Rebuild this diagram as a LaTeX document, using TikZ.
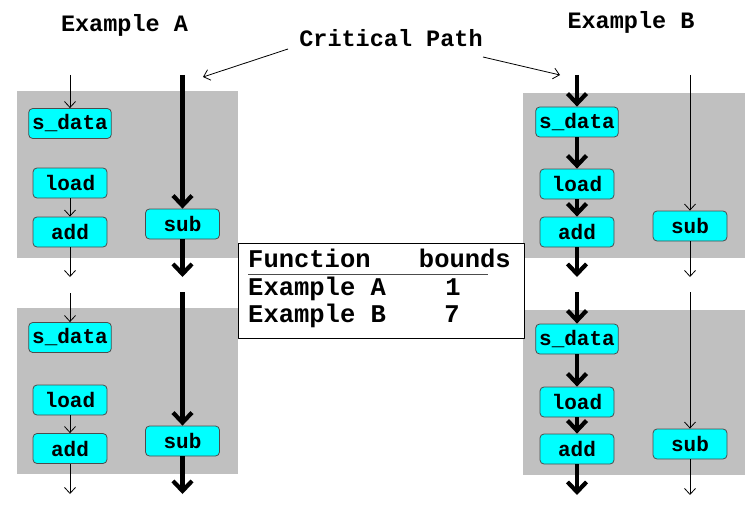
\documentclass[tikz,border=0pt]{standalone}
\usepackage{fontspec}
\setmainfont{Liberation Mono}
\usetikzlibrary{arrows.meta}
\definecolor{boxgray}{RGB}{192,192,192}
\definecolor{opcyan}{RGB}{0,255,255}

\begin{document}
\begin{tikzpicture}[line join=round,x=1pt,y=-1pt,
  op/.style={draw=black!70,fill=opcyan,rounded corners=4pt,line width=0.8pt,
    minimum width=74pt,minimum height=30pt,inner xsep=3.5pt,
    font=\fontsize{21}{21}\selectfont\bfseries},
  minor/.style={line width=0.8pt,-{Straight Barb[length=6pt,width=11pt]}},
  crit/.style={line width=4.2pt,-{Straight Barb[length=10pt,width=19pt,sharp]}},
  title/.style={anchor=base,font=\fontsize{23.5}{24}\selectfont\bfseries},
  tabtxt/.style={font=\fontsize{25.5}{26}\selectfont\bfseries,inner sep=0pt}]
\useasboundingbox (0,0) rectangle (756,511);
%\clip (0,0) rectangle (756,511);
% gray blocks
\fill [boxgray] (17,91) rectangle (238,258);
\fill [boxgray] (17,308) rectangle (238,474);
\fill [boxgray] (523,93) rectangle (745,258);
\fill [boxgray] (523,310) rectangle (745,475);
% titles
\node [title] (titA) at (124.5,31.7) {Example A};
\node [title] (titB) at (631,29) {Example B};
\node [title] (cpath) at (391,47) {Critical Path};
\coordinate (cpL) at (288,49);
\coordinate (cpR) at (483,57);
\coordinate (cpLend) at (203,77);
\coordinate (cpRend) at (560,75);
\draw [minor] (cpL) -- (cpLend);
\draw [minor] (cpR) -- (cpRend);
% Example A, upper block
\node [op] (sdA1) at (70,123.5) {s\_data};
\node [op] (ldA1) at (70,183) {load};
\node [op] (adA1) at (70,232) {add};
\node [op] (sbA1) at (182.5,224) {sub};
\coordinate (inA1) at (70,75);
\coordinate (outA1) at (70,277);
\coordinate (cinA1) at (182.5,75);
\coordinate (coutA1) at (182.5,277);
\draw [minor] (inA1) -- (sdA1);
\draw [minor] (ldA1) -- (adA1);
\draw [minor] (adA1) -- (outA1);
\draw [crit] (cinA1) -- (sbA1);
\draw [crit] (sbA1) -- (coutA1);
% Example A, lower block
\node [op] (sdA2) at (70,337.5) {s\_data};
\node [op] (ldA2) at (70,400) {load};
\node [op] (adA2) at (70,448.5) {add};
\node [op] (sbA2) at (182.5,441) {sub};
\coordinate (inA2) at (70,293);
\coordinate (outA2) at (70,494);
\coordinate (cinA2) at (182.5,292);
\coordinate (coutA2) at (182.5,494);
\draw [minor] (inA2) -- (sdA2);
\draw [minor] (ldA2) -- (adA2);
\draw [minor] (adA2) -- (outA2);
\draw [crit] (cinA2) -- (sbA2);
\draw [crit] (sbA2) -- (coutA2);
% Example B, upper block
\node [op] (sdB1) at (577,122) {s\_data};
\node [op] (ldB1) at (577,184) {load};
\node [op] (adB1) at (577,232) {add};
\node [op] (sbB1) at (690,226) {sub};
\coordinate (cinB1) at (577,75);
\coordinate (coutB1) at (577,277);
\coordinate (inB1) at (690,75);
\coordinate (outB1) at (690,277);
\draw [crit] (cinB1) -- (sdB1);
\draw [crit] (sdB1) -- (ldB1);
\draw [crit] (ldB1) -- (adB1);
\draw [crit] (adB1) -- (coutB1);
\draw [minor] (inB1) -- (sbB1);
\draw [minor] (sbB1) -- (outB1);
% Example B, lower block
\node [op] (sdB2) at (577,339) {s\_data};
\node [op] (ldB2) at (577,402) {load};
\node [op] (adB2) at (577,449) {add};
\node [op] (sbB2) at (690,444) {sub};
\coordinate (cinB2) at (577,292);
\coordinate (coutB2) at (577,495);
\coordinate (inB2) at (690,292);
\coordinate (outB2) at (690,495);
\draw [crit] (cinB2) -- (sdB2);
\draw [crit] (sdB2) -- (ldB2);
\draw [crit] (ldB2) -- (adB2);
\draw [crit] (adB2) -- (coutB2);
\draw [minor] (inB2) -- (sbB2);
\draw [minor] (sbB2) -- (outB2);
% bounds table
\node [draw,fill=white,line width=1pt,minimum width=286pt,minimum height=95pt,inner sep=0pt] (tab) at (381,290.5) {};
\node [tabtxt,anchor=base west] (hdF) at (248,267) {Function};
\node [tabtxt,anchor=base east] (hdB) at (511,267) {bounds};
\draw [line width=0.8pt,black!70] (248,274) -- (488,274);
\node [tabtxt,anchor=base west] (rwA) at (248,295) {Example A};
\node [tabtxt,anchor=base] (bdA) at (453,295) {1};
\node [tabtxt,anchor=base west] (rwB) at (248,322) {Example B};
\node [tabtxt,anchor=base] (bdB) at (452,322) {7};
\end{tikzpicture}
\end{document}
